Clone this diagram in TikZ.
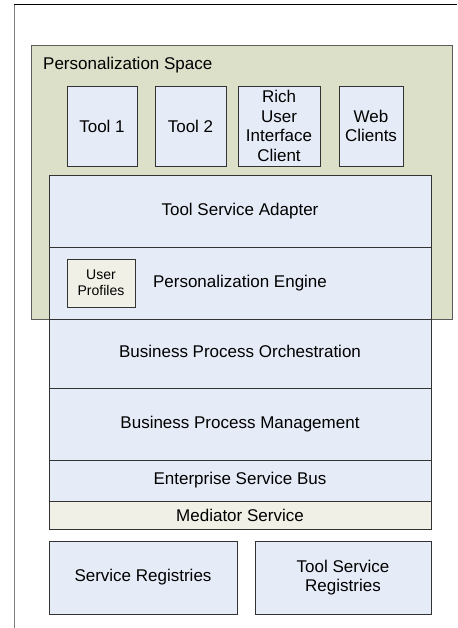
\documentclass[tikz,border=0pt]{standalone}
\usepackage{fontspec}
\setmainfont{Liberation Sans}
\definecolor{spacegreen}{HTML}{DCE0C8}
\definecolor{boxblue}{HTML}{E6ECF7}
\definecolor{boxcream}{HTML}{F0F0E6}
\definecolor{edge}{HTML}{333333}
\begin{document}
\begin{tikzpicture}[x=1pt,y=-1pt,
  every node/.style={font=\fontsize{17}{19.5}\selectfont, inner sep=0pt, align=center},
  blk/.style={draw=edge, line width=0.9pt, fill=boxblue, rectangle},
  cream/.style={draw=edge, line width=0.9pt, fill=boxcream, rectangle},
  spacebox/.style={draw=edge!80, line width=0.9pt, fill=spacegreen, rectangle}]
\useasboundingbox (0,0) rectangle (457,628);
% outer frame
\coordinate (fbl) at (14,628);
\coordinate (ftl) at (14,5);
\coordinate (ftr) at (457,5);
\draw[gray, line width=1pt] (fbl) -- (ftl);
\draw[black, line width=1pt] (ftl) -- (ftr);
% personalization space
\node[spacebox, minimum width=421pt, minimum height=274pt] (space) at (241.5,182) {};
\node[anchor=west] (spacelbl) at (43,65) {Personalization Space};
\node[blk, minimum width=70pt, minimum height=80pt] (tool1) at (102,126) {Tool 1};
\node[blk, minimum width=71pt, minimum height=80pt] (tool2) at (190.5,126) {Tool 2};
\node[blk, minimum width=82pt, minimum height=80pt] (rich) at (279,126) {Rich\\User\\Interface\\Client};
\node[blk, minimum width=64pt, minimum height=80pt] (web) at (371,126) {Web\\Clients};
% stack
\node[blk, minimum width=382pt, minimum height=72pt] (tsa) at (240,211) {Tool Service Adapter};
\node[blk, minimum width=382pt, minimum height=72pt] (pe) at (240,283) {Personalization Engine};
\node[cream, minimum width=68pt, minimum height=48pt, font=\fontsize{14}{16.5}\selectfont] (up) at (101,283) {User\\Profiles};
\node[blk, minimum width=382pt, minimum height=69pt] (bpo) at (240,353.5) {};
\node (bpolbl) at (240,351) {Business Process Orchestration};
\node[blk, minimum width=382pt, minimum height=72pt] (bpm) at (240,424) {Business Process Management};
\node[blk, minimum width=382pt, minimum height=41pt] (esb) at (240,480.5) {Enterprise Service Bus};
\node[cream, minimum width=382pt, minimum height=28pt] (med) at (240,515) {Mediator Service};
\node[blk, minimum width=188pt, minimum height=73pt] (sr) at (143,577.5) {Service Registries};
\node[blk, minimum width=176pt, minimum height=73pt] (tsr) at (343,577.5) {Tool Service\\Registries};
\end{tikzpicture}
\end{document}
